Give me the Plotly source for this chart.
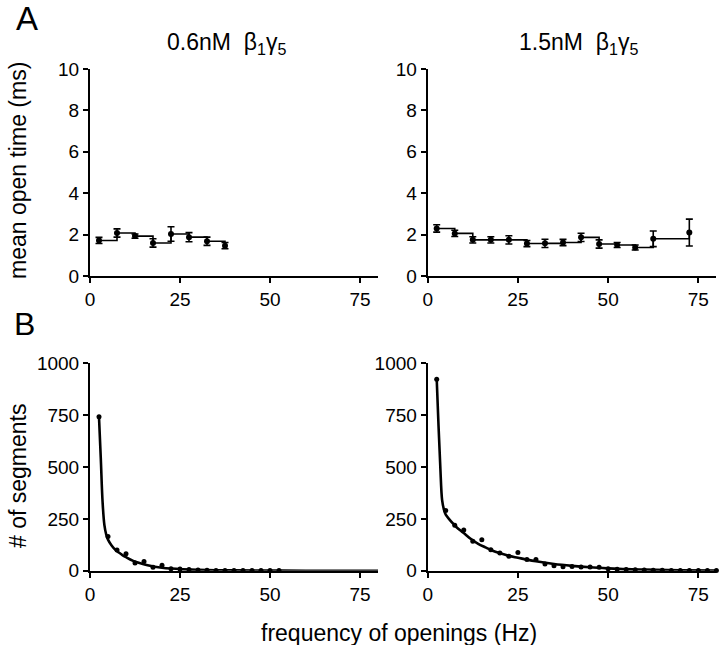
import plotly.graph_objects as go

# ---- Panel A data (mean open time, ms) ----
a1_x = [2.5, 7.5, 12.5, 17.5, 22.5, 27.5, 32.5, 37.5]
a1_y = [1.72, 2.08, 1.93, 1.6, 2.03, 1.88, 1.68, 1.47]
a1_err = [0.15, 0.2, 0.1, 0.2, 0.35, 0.22, 0.2, 0.15]

a2_x = [2.5, 7.5, 12.5, 17.5, 22.5, 27.5, 32.5, 37.5, 42.5, 47.5, 52.5, 57.5, 62.5, 72.5]
a2_y = [2.3, 2.06, 1.75, 1.75, 1.75, 1.57, 1.58, 1.62, 1.87, 1.55, 1.5, 1.38, 1.8, 2.1]
a2_err = [0.18, 0.15, 0.15, 0.15, 0.2, 0.15, 0.2, 0.15, 0.2, 0.2, 0.12, 0.12, 0.38, 0.65]

# ---- Panel B data (# of segments) ----
b1_x = [2.5, 5, 7.5, 10, 12.5, 15, 17.5, 20, 22.5, 25, 27.5, 30, 32.5, 35, 37.5,
        40, 42.5, 45, 47.5, 50, 52.5]
b1_y = [742, 165, 100, 82, 38, 45, 17, 27, 10, 9, 6, 4, 3, 2, 2, 2, 1, 1, 1, 1, 1]

b1_fit_x = [2.5, 3.0, 3.5, 4.0, 4.5, 5, 6, 7, 8, 9, 10, 12, 14, 16, 18, 20, 22.5,
            25, 30, 35, 40, 50, 60, 80]
b1_fit_y = [740, 540, 330, 220, 175, 150, 122, 102, 88, 76, 66, 48, 36, 27, 20, 15,
            11, 8, 5, 3, 2, 1, 0.5, 0]

b2_x = [2.5, 5, 7.5, 10, 12.5, 15, 17.5, 20, 22.5, 25, 27.5, 30, 32.5, 35, 37.5, 40,
        42.5, 45, 47.5, 50, 52.5, 55, 57.5, 60, 62.5, 65, 67.5, 70, 72.5, 75, 77.5, 80]
b2_y = [922, 290, 220, 196, 142, 150, 102, 86, 70, 88, 54, 54, 33, 25, 20, 21, 18, 18,
        17, 10, 8, 7, 5, 4, 3, 3, 2, 2, 2, 1, 1, 1]

b2_fit_x = [2.5, 3.0, 3.5, 4.0, 4.5, 5, 6, 7, 8, 9, 10, 12, 14, 16, 18, 20, 22.5, 25,
            27.5, 30, 35, 40, 45, 50, 55, 60, 70, 80]
b2_fit_y = [925, 700, 500, 340, 295, 270, 248, 228, 210, 195, 182, 153, 130, 113, 97,
            85, 72, 63, 54, 46, 33, 24, 17, 12, 8, 6, 3, 1]

x_ticks = [0, 25, 50, 75]
a_ticks = [0, 2, 4, 6, 8, 10]
b_ticks = [0, 250, 500, 750, 1000]

FONT = "Arial, Liberation Sans, Helvetica, sans-serif"
fig = go.Figure()


def step_panel(x, y, err, xa, ya):
    fig.add_trace(go.Scatter(x=x, y=y, mode="lines", line=dict(shape="hv", color="black", width=1.6),
                             xaxis=xa, yaxis=ya, hoverinfo="skip", showlegend=False))
    fig.add_trace(go.Scatter(x=x, y=y, mode="markers",
                             marker=dict(color="black", size=6),
                             error_y=dict(type="data", array=err, color="black", thickness=1.6, width=3.5),
                             xaxis=xa, yaxis=ya, showlegend=False, cliponaxis=False))


def decay_panel(x, y, fx, fy, xa, ya):
    fig.add_trace(go.Scatter(x=fx, y=fy, mode="lines", line=dict(shape="spline", color="black", width=2.6),
                             xaxis=xa, yaxis=ya, showlegend=False, cliponaxis=False))
    fig.add_trace(go.Scatter(x=x, y=y, mode="markers", marker=dict(color="black", size=5),
                             xaxis=xa, yaxis=ya, showlegend=False, cliponaxis=False))


step_panel(a1_x, a1_y, a1_err, "x", "y")
step_panel(a2_x, a2_y, a2_err, "x2", "y2")
decay_panel(b1_x, b1_y, b1_fit_x, b1_fit_y, "x3", "y3")
decay_panel(b2_x, b2_y, b2_fit_x, b2_fit_y, "x4", "y4")

axis_common = dict(showline=True, linewidth=2, linecolor="black", ticks="outside", ticklen=5,
                   tickwidth=2, tickcolor="black", showgrid=False, zeroline=False,
                   automargin=False,
                   tickfont=dict(family=FONT, size=19, color="black"))

left_dom = [0.125, 0.525]
right_dom = [0.594, 0.995]
top_dom = [0.572, 0.893]
bot_dom = [0.115, 0.437]

fig.update_layout(
    template="none",
    width=720, height=645, margin=dict(l=0, r=0, t=0, b=0, pad=0), autosize=False,
    paper_bgcolor="white", plot_bgcolor="white", showlegend=False,
    xaxis=dict(domain=left_dom, anchor="y", range=[0, 80], tickvals=x_ticks, **axis_common),
    yaxis=dict(domain=top_dom, anchor="x", range=[0, 10], tickvals=a_ticks, **axis_common),
    xaxis2=dict(domain=right_dom, anchor="y2", range=[0, 80], tickvals=x_ticks, **axis_common),
    yaxis2=dict(domain=top_dom, anchor="x2", range=[0, 10], tickvals=a_ticks, **axis_common),
    xaxis3=dict(domain=left_dom, anchor="y3", range=[0, 80], tickvals=x_ticks, **axis_common),
    yaxis3=dict(domain=bot_dom, anchor="x3", range=[0, 1000], tickvals=b_ticks, **axis_common),
    xaxis4=dict(domain=right_dom, anchor="y4", range=[0, 80], tickvals=x_ticks, **axis_common),
    yaxis4=dict(domain=bot_dom, anchor="x4", range=[0, 1000], tickvals=b_ticks, **axis_common),
)


def px_ann(text, x, y, size, angle=0):
    fig.add_annotation(text=text, x=x / 720, y=1 - y / 645, xref="paper", yref="paper",
                       showarrow=False, textangle=angle, xanchor="center", yanchor="middle",
                       font=dict(family=FONT, size=size, color="black"))


px_ann("A", 27, 19, 33)
px_ann("B", 24, 324, 32)
px_ann("0.6nM  β<sub>1</sub>γ<sub>5</sub>", 226, 44, 23)
px_ann("1.5nM  β<sub>1</sub>γ<sub>5</sub>", 578, 44, 23)
px_ann("mean open time (ms)", 18, 171, 23, angle=-90)
px_ann("# of segments", 18, 476, 23, angle=-90)
px_ann("frequency of openings (Hz)", 399, 633, 23)

fig.write_html("out.html",
               config={"displayModeBar": False, "staticPlot": True},
               post_script="document.body.style.margin='0px';document.body.style.overflow='hidden';")
